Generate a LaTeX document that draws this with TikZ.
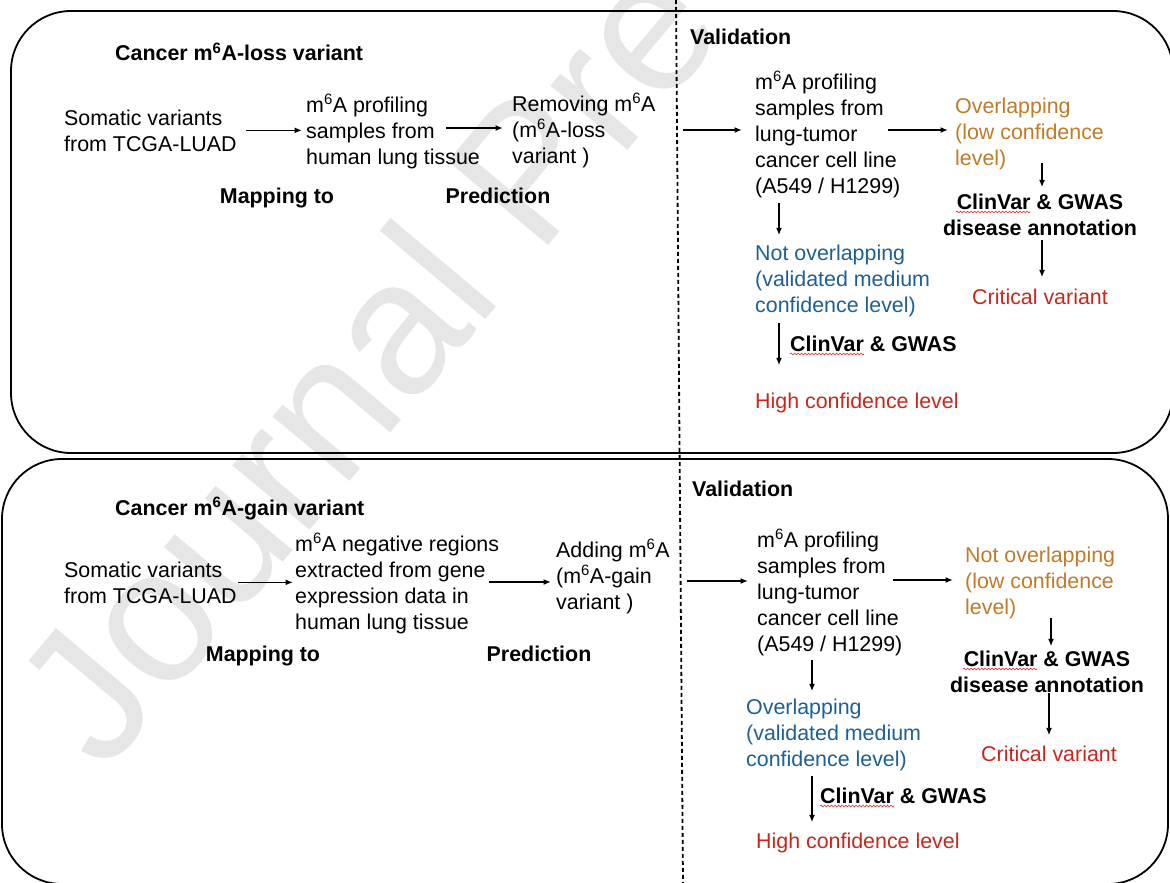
\documentclass[tikz,border=0pt]{standalone}
\usepackage{fontspec}
\setmainfont{Liberation Sans}
\usetikzlibrary{arrows.meta,calc,decorations.pathmorphing}
\definecolor{orng}{HTML}{C07A28}
\definecolor{blu}{HTML}{1E5F93}
\definecolor{rd}{HTML}{C8261D}
\definecolor{wm}{HTML}{E6E6E6}
\definecolor{spell}{HTML}{E02020}
\newcommand\fs{\fontsize{21.4}{26}\selectfont}
\begin{document}
\begin{tikzpicture}[x=1pt,y=-1pt,
  every node/.style={inner sep=0pt, font=\fs},
  txt/.style={anchor=base west, align=left},
  bld/.style={txt, font=\fs\bfseries},
  arr/.style={-{Latex[length=7.5pt,width=6pt]}, line width=1.7pt},
  panel/.style={line width=1.8pt, rounded corners=60pt},
  dashline/.style={line width=1.8pt, dash pattern=on 4pt off 3pt},
  squig/.style={draw=spell, line width=0.6pt, decorate, decoration={snake, segment length=3.5pt, amplitude=0.9pt}}]
\useasboundingbox (0,0) rectangle (1170,883);
% watermark
\begin{scope}
\clip (0,0) rectangle (1170,883);
\node[font=\fontsize{190}{190}\selectfont, text=wm, rotate=50, anchor=base west] (wmark) at (104,775) {Journal Pre-proof};
\end{scope}
% panels
\draw[panel] (11,11) rectangle (1173,453);
\draw[panel] (2,459) rectangle (1168,884);
\draw[dashline] (676,0) -- (683,883);

% ---------------- top panel ----------------
\node[bld] (title1) at (115,61) {Cancer m\textsuperscript{6}A-loss variant};
\node[txt] (som1) at (64,151) {Somatic variants\\from TCGA-LUAD};
\node[txt] (prof1) at (306,164) {m\textsuperscript{6}A profiling\\samples from\\human lung tissue};
\node[txt] (rem1) at (512,163) {Removing m\textsuperscript{6}A\\(m\textsuperscript{6}A-loss\\variant )};
\node[bld, anchor=base] (map1) at (277,203) {Mapping to};
\node[bld, anchor=base] (pred1) at (498,203) {Prediction};
\node[bld] (val1) at (690,45) {Validation};
\node[txt] (vprof1) at (755,193) {m\textsuperscript{6}A profiling\\samples from\\lung-tumor\\cancer cell line\\(A549 / H1299)};
\node[txt, text=orng] (ovl1) at (955,165) {Overlapping\\(low confidence\\level)};
\node[bld, anchor=base, align=center] (clin1) at (1040,235) {ClinVar \& GWAS\\disease annotation};
\node[txt, anchor=base, text=rd] (crit1) at (1040,304) {Critical variant};
\node[txt, text=blu] (notov1) at (755,312) {Not overlapping\\(validated medium\\confidence level)};
\node[bld] (lab1) at (790,351) {ClinVar \& GWAS};
\node[txt, text=rd] (high1) at (755,408) {High confidence level};
\draw[squig] ($(clin1.base)+(-84,-23)$) -- ++(74,0);
\draw[squig] ($(lab1.base west)+(0,3)$) -- ++(74,0);

\coordinate (a2s) at (446,128);
\coordinate (a3s) at (683,130);
\coordinate (a4s) at (888,130);
\coordinate (a5s) at (1042,163);
\coordinate (a6s) at (1042,240);
\coordinate (a7s) at (779,203);
\coordinate (a8s) at (779,323);
\draw[arr, shorten <=9pt, shorten >=4pt] (som1.east) -- (som1.east -| prof1.west);
\draw[arr, shorten >=9pt] (a2s) -- (a2s -| rem1.west);
\draw[arr, shorten >=13pt] (a3s) -- (a3s -| vprof1.west);
\draw[arr, shorten >=7pt] (a4s) -- (a4s -| ovl1.west);
\draw[arr, shorten >=6pt] (a5s) -- (a5s |- clin1.north);
\draw[arr, shorten >=11pt] (a6s) -- (a6s |- crit1.north);
\draw[arr, shorten >=9pt] (a7s) -- (a7s |- notov1.north);
\draw[arr, shorten >=27pt] (a8s) -- (a8s |- high1.north);

% ---------------- bottom panel ----------------
\node[bld] (title2) at (115,515) {Cancer m\textsuperscript{6}A-gain variant};
\node[txt] (som2) at (64,603) {Somatic variants\\from TCGA-LUAD};
\node[txt] (neg2) at (295,629) {m\textsuperscript{6}A negative regions\\extracted from gene\\expression data in\\human lung tissue};
\node[txt] (add2) at (556,609) {Adding m\textsuperscript{6}A\\(m\textsuperscript{6}A-gain\\variant )};
\node[bld, anchor=base] (map2) at (263,661) {Mapping to};
\node[bld, anchor=base] (pred2) at (539,661) {Prediction};
\node[bld] (val2) at (692,496) {Validation};
\node[txt] (vprof2) at (757,651) {m\textsuperscript{6}A profiling\\samples from\\lung-tumor\\cancer cell line\\(A549 / H1299)};
\node[txt, text=orng] (notov2) at (965,614) {Not overlapping\\(low confidence\\level)};
\node[bld, anchor=base, align=center] (clin2) at (1047,692) {ClinVar \& GWAS\\disease annotation};
\node[txt, anchor=base, text=rd] (crit2) at (1049,761) {Critical variant};
\node[txt, text=blu] (ovl2) at (746,766) {Overlapping\\(validated medium\\confidence level)};
\node[bld] (lab2) at (820,803) {ClinVar \& GWAS};
\node[txt, text=rd] (high2) at (756,848) {High confidence level};
\draw[squig] ($(clin2.base)+(-84,-23)$) -- ++(74,0);
\draw[squig] ($(lab2.base west)+(0,3)$) -- ++(74,0);

\coordinate (b2s) at (489,582);
\coordinate (b3s) at (687,581);
\coordinate (b4s) at (893,580);
\coordinate (b5s) at (1051,618);
\coordinate (b6s) at (1049,693);
\coordinate (b7s) at (812,660);
\coordinate (b8s) at (812,776);
\draw[arr, shorten <=1pt, shorten >=2pt] (som2.east) -- (som2.east -| neg2.west);
\draw[arr, shorten >=5pt] (b2s) -- (b2s -| add2.west);
\draw[arr, shorten >=9pt] (b3s) -- (b3s -| vprof2.west);
\draw[arr, shorten >=12pt] (b4s) -- (b4s -| notov2.west);
\draw[arr, shorten >=4pt] (b5s) -- (b5s |- clin2.north);
\draw[arr, shorten >=10pt] (b6s) -- (b6s |- crit2.north);
\draw[arr, shorten >=7pt] (b7s) -- (b7s |- ovl2.north);
\draw[arr, shorten >=10pt] (b8s) -- (b8s |- high2.north);
\end{tikzpicture}
\end{document}
